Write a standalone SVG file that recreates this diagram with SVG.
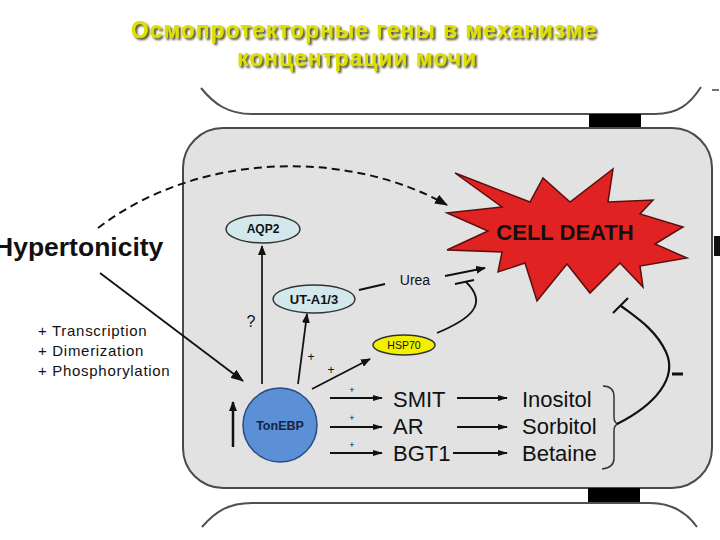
<svg xmlns="http://www.w3.org/2000/svg" width="720" height="540" viewBox="0 0 720 540">
<defs>
<style>
.t{font-family:"Liberation Sans",Arial,sans-serif;fill:#111}
.b{font-weight:bold}
.ln{stroke:#111;stroke-width:1.8;fill:none}
.memb{stroke:#505050;stroke-width:2;fill:none}
.ell{fill:#d3e8ec;stroke:#333;stroke-width:1.5}
.title{font-family:"Liberation Sans",Arial,sans-serif;font-weight:bold;font-size:23px;fill:#e0e000;text-anchor:middle;letter-spacing:0.9px}
</style>
<marker id="ah" viewBox="0 0 10 8" refX="9" refY="4" markerWidth="10" markerHeight="8" markerUnits="userSpaceOnUse" orient="auto">
<path d="M0,0 L10,4 L0,8 z" fill="#111"/>
</marker>
<marker id="ahs" viewBox="0 0 10 6" refX="9" refY="3" markerWidth="10" markerHeight="6" markerUnits="userSpaceOnUse" orient="auto">
<path d="M0,0 L10,3 L0,6 z" fill="#111"/>
</marker>
<marker id="ahb" viewBox="0 0 13 10" refX="12" refY="5" markerWidth="13" markerHeight="10" markerUnits="userSpaceOnUse" orient="auto">
<path d="M0,0 L13,5 L0,10 z" fill="#111"/>
</marker>
<filter id="sh" x="-5%" y="-30%" width="110%" height="160%">
<feGaussianBlur in="SourceAlpha" stdDeviation="1.2"/>
<feOffset dx="1.5" dy="1.8" result="o"/>
<feFlood flood-color="#4a4a14"/>
<feComposite in2="o" operator="in"/>
<feMerge><feMergeNode/><feMergeNode in="SourceGraphic"/></feMerge>
</filter>
</defs>
<rect width="720" height="540" fill="#fff"/>

<g id="title" filter="url(#sh)">
<text class="title" x="364" y="38">Осмопротекторные гены в механизме</text>
<text class="title" x="357" y="66">концентрации мочи</text>
</g>

<g id="membranes">
<path class="memb" d="M201,88 C214,104 228,114 252,114 L655,114 C678,114 690,104 701,87"/>
<rect x="589" y="114" width="52" height="14" fill="#000"/>
<rect x="183" y="128" width="529" height="360" rx="40" ry="40" fill="#e2e2e2" stroke="#4a4a4a" stroke-width="2"/>
<rect x="588" y="488" width="52" height="15" fill="#000"/>
<path class="memb" d="M202,527 C215,512 228,503 252,503 L650,503 C673,503 687,513 697,527"/>
<line x1="712" y1="90" x2="719" y2="90" stroke="#444" stroke-width="1.5"/>
<rect x="714" y="236" width="6" height="20" fill="#111"/>
</g>

<g id="celldeath">
<polygon points="455,173 530,202 543,178 570,202 613,169 608,202 653,200 640,214 683,227 655,244 687,258 640,266 643,287 620,263 590,293 567,264 537,301 525,263 498,272 502,252 447,250 488,231 447,213 502,207" fill="#e02222" stroke="#5a0f0f" stroke-width="1.5" stroke-linejoin="miter"/>
<text class="t b" x="565" y="240" font-size="22" text-anchor="middle">CELL DEATH</text>
</g>

<g id="hypertonicity">
<text class="t b" x="-6" y="256" font-size="26.5">Hypertonicity</text>
</g>
<g id="modifications">
<text class="t" x="38" y="336" font-size="15" letter-spacing="0.7">+ Transcription</text>
<text class="t" x="38" y="356" font-size="15" letter-spacing="0.7">+ Dimerization</text>
<text class="t" x="38" y="376" font-size="15" letter-spacing="0.7">+ Phosphorylation</text>
</g>

<g id="aqp2">
<ellipse class="ell" cx="263" cy="229" rx="37" ry="14"/>
<text class="t b" x="263" y="233" font-size="12" text-anchor="middle">AQP2</text>
</g>
<g id="uta13">
<ellipse class="ell" cx="314" cy="299" rx="41" ry="14"/>
<text class="t b" x="314" y="304" font-size="13" text-anchor="middle">UT-A1/3</text>
</g>
<g id="hsp70">
<ellipse cx="404" cy="345" rx="31" ry="10" fill="#f2f000" stroke="#333" stroke-width="1.5"/>
<text class="t" x="404" y="349" font-size="10.5" text-anchor="middle">HSP70</text>
</g>
<g id="urea">
<text class="t" x="415" y="285" font-size="14" text-anchor="middle">Urea</text>
</g>
<g id="tonebp">
<circle cx="280" cy="425" r="37" fill="#5b8fd6" stroke="#2b4a80" stroke-width="1.5"/>
<text class="t b" x="280" y="430" font-size="12.5" text-anchor="middle" style="fill:#14233f">TonEBP</text>
</g>
<g id="genes" font-size="22">
<text class="t" x="393" y="407">SMIT</text>
<text class="t" x="393" y="434">AR</text>
<text class="t" x="393" y="461">BGT1</text>
</g>
<g id="osmolytes" font-size="22">
<text class="t" x="522" y="407">Inositol</text>
<text class="t" x="522" y="434">Sorbitol</text>
<text class="t" x="522" y="461">Betaine</text>
</g>

<g id="connectors">
<path d="M98,228 C200,150 350,150 447,205" stroke="#111" stroke-width="2" fill="none" stroke-dasharray="8,5" marker-end="url(#ahb)"/>
<line class="ln" x1="100" y1="273" x2="243" y2="381" marker-end="url(#ahb)"/>
<line x1="262" y1="384" x2="262" y2="246" stroke="#333" stroke-width="2" marker-end="url(#ah)"/>
<text class="t" x="251" y="327" font-size="16" text-anchor="middle">?</text>
<line class="ln" x1="298" y1="384" x2="307" y2="314" marker-end="url(#ah)"/>
<text class="t" x="311" y="361" font-size="12" text-anchor="middle">+</text>
<line class="ln" x1="312" y1="389" x2="370" y2="359" marker-end="url(#ah)"/>
<text class="t" x="331" y="374" font-size="12" text-anchor="middle">+</text>
<line x1="359" y1="290" x2="385" y2="284" stroke="#111" stroke-width="2"/>
<line class="ln" x1="445" y1="276" x2="485" y2="268" marker-end="url(#ah)"/>
<path class="ln" d="M437,333 C468,320 490,305 466,282"/>
<line class="ln" x1="455" y1="284" x2="474" y2="280"/>
<line x1="233" y1="447" x2="233" y2="402" stroke="#111" stroke-width="2.5" marker-end="url(#ah)"/>
<line class="ln" x1="330" y1="398" x2="382" y2="398" marker-end="url(#ahs)"/>
<line class="ln" x1="330" y1="427" x2="382" y2="427" marker-end="url(#ahs)"/>
<line class="ln" x1="330" y1="453" x2="382" y2="453" marker-end="url(#ahs)"/>
<text class="t" x="352" y="393" font-size="9" text-anchor="middle">+</text>
<text class="t" x="352" y="421" font-size="9" text-anchor="middle">+</text>
<text class="t" x="352" y="448" font-size="9" text-anchor="middle">+</text>
<line class="ln" x1="457" y1="398" x2="507" y2="398" marker-end="url(#ahs)"/>
<line class="ln" x1="457" y1="427" x2="507" y2="427" marker-end="url(#ahs)"/>
<line class="ln" x1="453" y1="453" x2="507" y2="453" marker-end="url(#ahs)"/>
<path d="M603,386 Q614,386 614,397 L614,417 Q614,423 618,424 Q614,425 614,431 L614,458 Q614,468 602,469" stroke="#333" stroke-width="1.5" fill="none"/>
<path d="M617,424 C655,405 678,378 666,352 C656,330 637,318 621,306" stroke="#111" stroke-width="2.2" fill="none"/>
<line x1="613" y1="313" x2="628" y2="298" stroke="#111" stroke-width="2.2"/>
<line x1="672" y1="374" x2="683" y2="374" stroke="#111" stroke-width="3"/>
</g>
</svg>
